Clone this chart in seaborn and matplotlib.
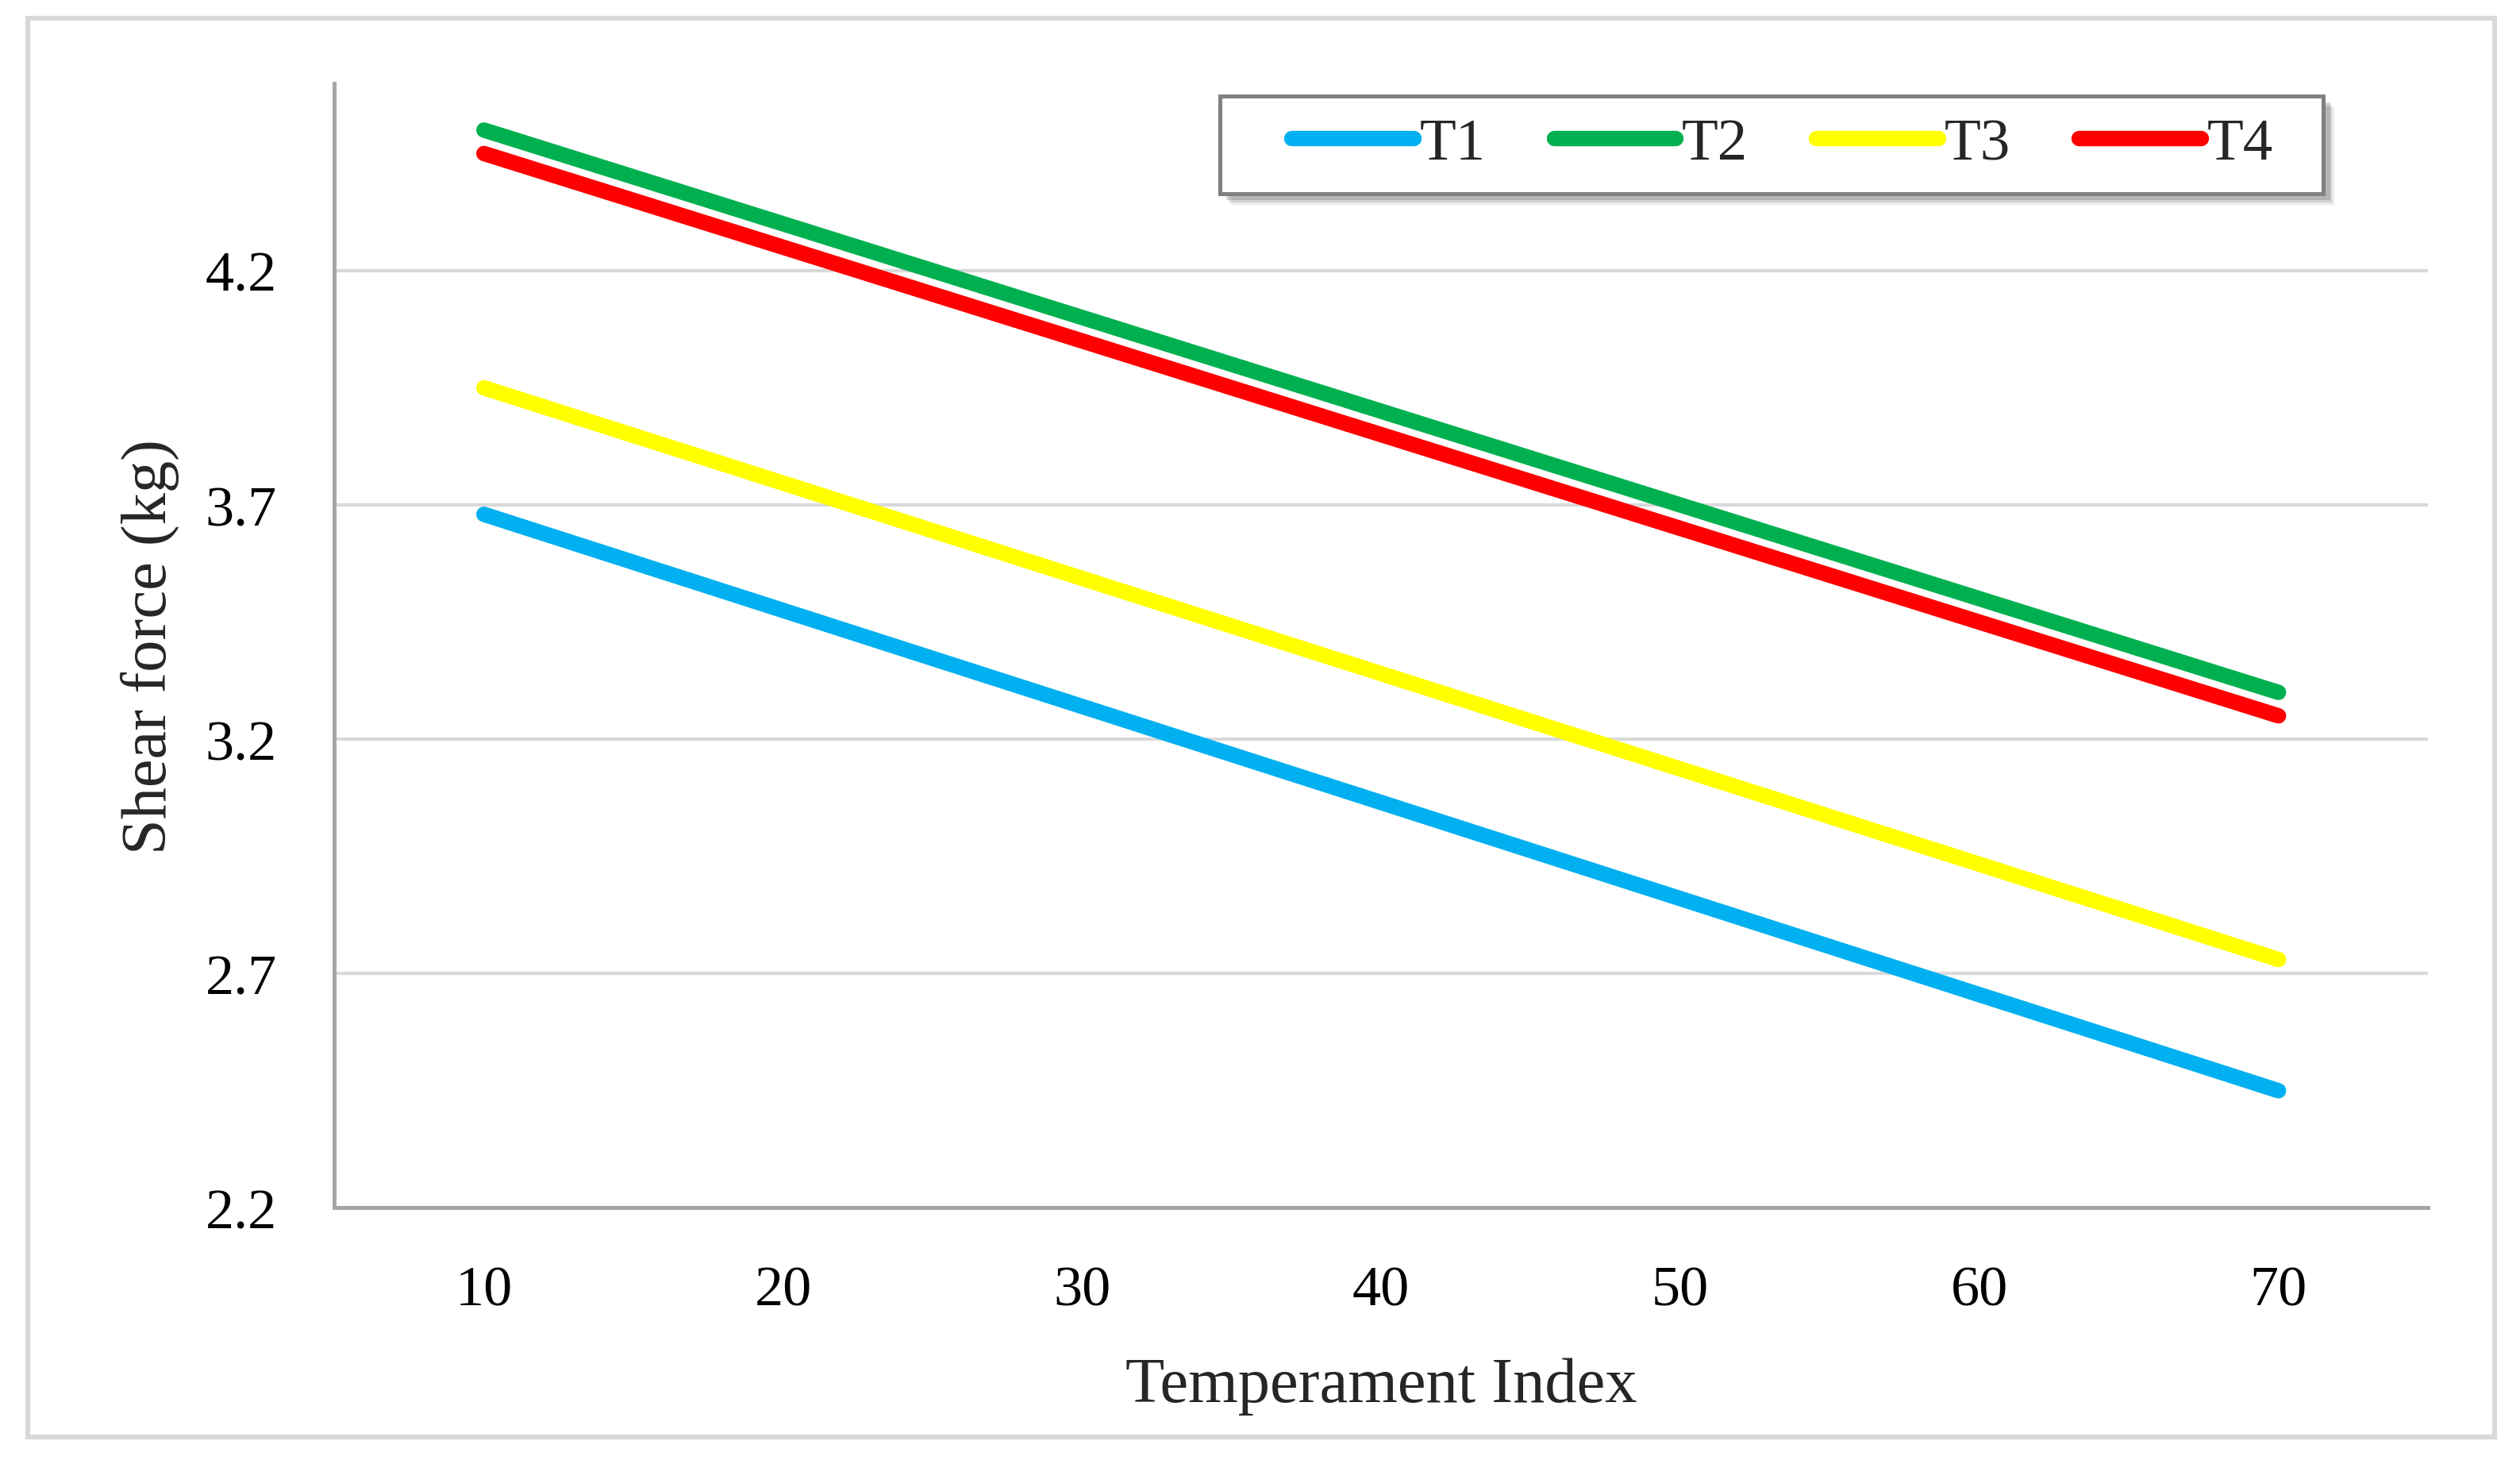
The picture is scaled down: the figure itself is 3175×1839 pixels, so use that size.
import matplotlib
matplotlib.use("Agg")
import matplotlib.pyplot as plt
from matplotlib.patches import Rectangle
from matplotlib.transforms import offset_copy
import pandas as pd
import seaborn as sns

# Values (straight trend lines, read at both ends)
temperament = [10, 70]
t1 = [3.68, 2.45]
t2 = [4.50, 3.30]
t3 = [3.95, 2.73]
t4 = [4.45, 3.25]
series_names = ["T1", "T2", "T3", "T4"]
x_ticks = [10, 20, 30, 40, 50, 60, 70]
y_ticks = [2.2, 2.7, 3.2, 3.7, 4.2]

colores = {"T1": "#00B0F0", "T2": "#00B050", "T3": "#FFFF00", "T4": "#FF0000"}

df = pd.DataFrame({
    "Temperament Index": temperament * 4,
    "Shear force (kg)": t1 + t2 + t3 + t4,
    "Tratamiento": [n for n in series_names for _ in temperament],
})

sns.set_theme(style="white")
plt.rcParams["font.family"] = ["Liberation Serif", "DejaVu Serif"]

fig = plt.figure(figsize=(15.875, 9.2), dpi=200)
ax = fig.add_axes([0.1327, 0.1726, 0.8308, 0.7699])

sns.lineplot(data=df, x="Temperament Index", y="Shear force (kg)", hue="Tratamiento",
             palette=colores, linewidth=7, legend=False, ax=ax)
for ln in ax.get_lines():
    ln.set_solid_capstyle("round")

ax.set_xlim(5, 75)
ax.set_ylim(2.2, 4.6)
ax.set_xticks(x_ticks)
ax.set_yticks(y_ticks)
ax.set_yticklabels([f"{v:.1f}" for v in y_ticks])
ax.grid(axis="y", color="#D9D9D9", linewidth=1.5)
ax.grid(axis="x", visible=False)
ax.set_axisbelow(True)
for s in ["top", "right"]:
    ax.spines[s].set_visible(False)
for s in ["left", "bottom"]:
    ax.spines[s].set_color("#A6A6A6")
    ax.spines[s].set_linewidth(1.8)
ax.tick_params(axis="both", length=0, labelsize=26, colors="black")
ax.tick_params(axis="x", pad=26)
ax.tick_params(axis="y", pad=26)
ax.set_xlabel("Temperament Index", fontsize=29, labelpad=18)
ax.set_ylabel("Shear force (kg)", fontsize=29, labelpad=12)

# legend box drawn by hand (wide side padding, soft shadow to bottom right)
caja_xy, caja_w, caja_h = (0.423, 0.902), 0.527, 0.0865
for i, (dx, a) in enumerate([(5.0, 0.12), (4.0, 0.18), (3.0, 0.25)]):
    tr = offset_copy(ax.transAxes, fig=fig, x=dx, y=-dx, units="points")
    ax.add_patch(Rectangle(caja_xy, caja_w, caja_h, transform=tr, facecolor="#606060",
                           edgecolor="none", alpha=a, zorder=4.8, clip_on=False))
caja = Rectangle(caja_xy, caja_w, caja_h, transform=ax.transAxes,
                 facecolor="white", edgecolor="#808080", linewidth=1.8, zorder=5,
                 clip_on=False)
ax.add_patch(caja)

handles = ax.get_lines()[:4]
leg = ax.legend(handles, series_names, loc="center", bbox_to_anchor=(0.6915, 0.9455),
                ncol=4, fontsize=27, frameon=False, borderpad=0, borderaxespad=0,
                handlelength=2.05, handletextpad=0.1, columnspacing=1.15)
leg.set_zorder(6)

# outer chart border
fig.add_artist(Rectangle((0.011, 0.0155), 0.979, 0.9715, transform=fig.transFigure,
                         fill=False, edgecolor="#D9D9D9", linewidth=2.2))

fig.savefig("out.png", dpi=200)
